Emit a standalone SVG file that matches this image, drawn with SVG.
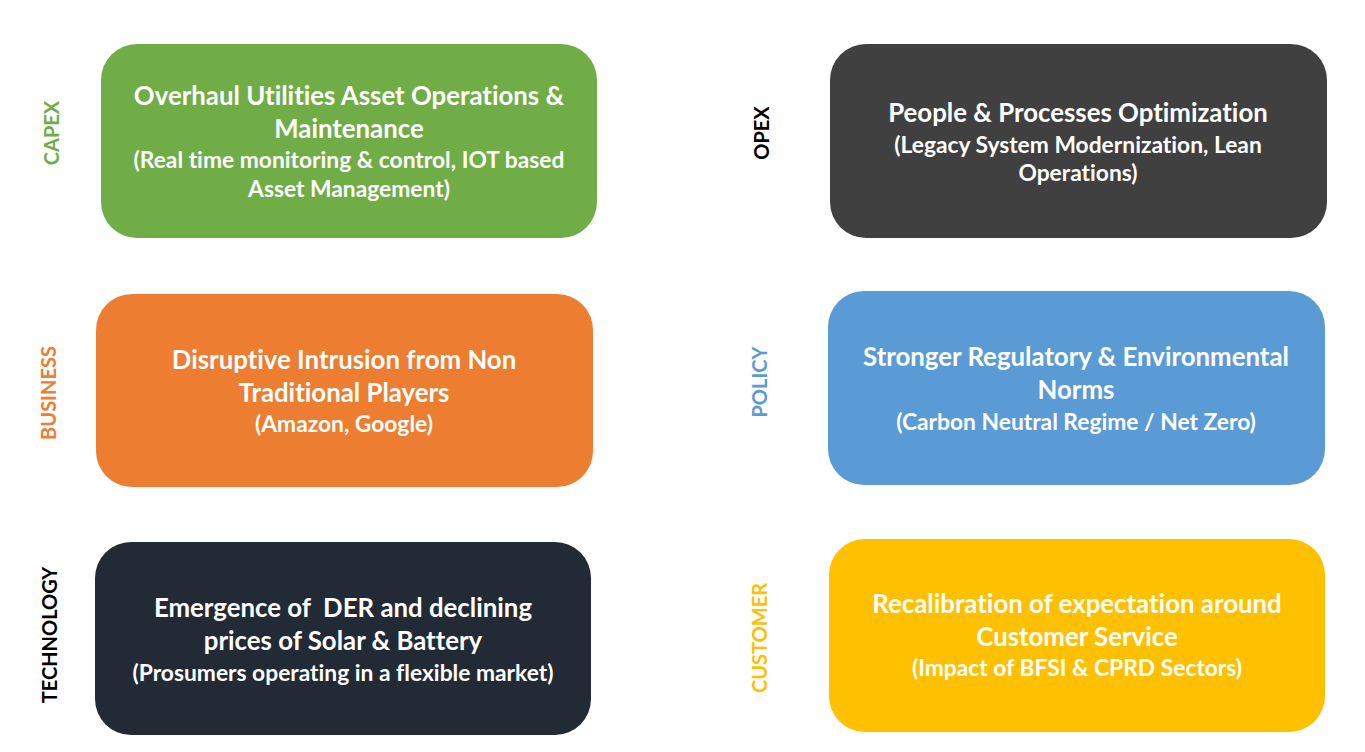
<svg xmlns="http://www.w3.org/2000/svg" width="1365" height="752" viewBox="0 0 1365 752">
<style>
.t{font-family:Lato,"Open Sans","Liberation Sans",sans-serif;font-weight:bold;fill:#fff;text-anchor:middle;white-space:pre;font-variant-ligatures:none}
.h{font-size:25.8px}
.s{font-size:22.8px}
.lab{font-family:Lato,"Open Sans","Liberation Sans",sans-serif;font-weight:bold;font-size:20px;text-anchor:middle}
</style>
<rect width="1365" height="752" fill="#fff"/>
<g id="capex">
<rect x="101" y="44" width="496" height="194" rx="36" fill="#70AD47"/>
<text class="t h" x="349" y="105">Overhaul Utilities Asset Operations &amp;</text>
<text class="t h" x="349" y="138">Maintenance</text>
<text class="t s" x="349" y="168">(Real time monitoring &amp; control, IOT based</text>
<text class="t s" x="349" y="197">Asset Management)</text>
<text class="lab" transform="translate(59,133) rotate(-90)" fill="#70AD47">CAPEX</text>
</g>
<g id="opex">
<rect x="830" y="44" width="497" height="194" rx="36" fill="#404040"/>
<text class="t h" x="1078" y="122">People &amp; Processes Optimization</text>
<text class="t s" x="1078" y="153">(Legacy System Modernization, Lean</text>
<text class="t s" x="1078" y="181">Operations)</text>
<text class="lab" transform="translate(769,133) rotate(-90)" fill="#000">OPEX</text>
</g>
<g id="business">
<rect x="96" y="294" width="497" height="193" rx="36" fill="#ED7D31"/>
<text class="t h" x="344" y="369">Disruptive Intrusion from Non</text>
<text class="t h" x="344" y="402">Traditional Players</text>
<text class="t s" x="344" y="432">(Amazon, Google)</text>
<text class="lab" transform="translate(56,393) rotate(-90)" fill="#ED7D31">BUSINESS</text>
</g>
<g id="policy">
<rect x="828" y="291" width="497" height="194" rx="36" fill="#5B9BD5"/>
<text class="t h" x="1076" y="366">Stronger Regulatory &amp; Environmental</text>
<text class="t h" x="1076" y="399">Norms</text>
<text class="t s" x="1076" y="430">(Carbon Neutral Regime / Net Zero)</text>
<text class="lab" transform="translate(767,382) rotate(-90)" fill="#5B9BD5">POLICY</text>
</g>
<g id="technology">
<rect x="95" y="542" width="496" height="193" rx="36" fill="#222A35"/>
<text class="t h" x="343" y="617" xml:space="preserve">Emergence of  DER and declining</text>
<text class="t h" x="343" y="650">prices of Solar &amp; Battery</text>
<text class="t s" x="343" y="681">(Prosumers operating in a flexible market)</text>
<text class="lab" transform="translate(57,635) rotate(-90)" fill="#000">TECHNOLOGY</text>
</g>
<g id="customer">
<rect x="829" y="539" width="496" height="193" rx="36" fill="#FFC000"/>
<text class="t h" x="1077" y="613">Recalibration of expectation around</text>
<text class="t h" x="1077" y="646">Customer Service</text>
<text class="t s" x="1077" y="676">(Impact of BFSI &amp; CPRD Sectors)</text>
<text class="lab" transform="translate(767,638) rotate(-90)" fill="#FFC000">CUSTOMER</text>
</g>
<g id="connectors"/>
</svg>
